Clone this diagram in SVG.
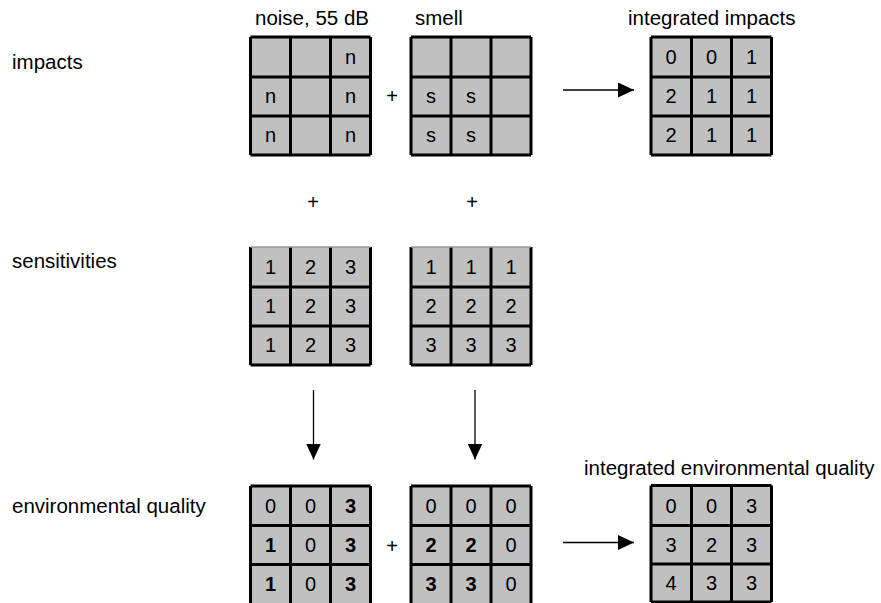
<svg xmlns="http://www.w3.org/2000/svg" width="881" height="603" viewBox="0 0 881 603">
  <style>
    text { font-family: "Liberation Sans", Arial, sans-serif; font-size: 20.5px; fill: #000; }
    .cell { text-anchor: middle; font-size: 20px; }
    .b { font-weight: bold; }
    .bg { fill: #c0c0c0; }
    .grid { fill: none; stroke: #000; stroke-width: 3; }
    .conn { stroke: #000; stroke-width: 1.3; fill: none; }
  </style>
  <defs>
    <marker id="head" viewBox="0 0 16 15" refX="16" refY="7.5" markerWidth="16" markerHeight="15" markerUnits="userSpaceOnUse" orient="auto">
      <path d="M0,0 L16,7.5 L0,15 Z" fill="#000"/>
    </marker>
  </defs>

  <!-- row labels -->
  <g id="row-labels">
    <text x="12" y="69">impacts</text>
    <text x="12" y="268">sensitivities</text>
    <text x="12" y="513">environmental quality</text>
  </g>

  <!-- impacts: noise -->
  <g id="noise">
    <text x="255" y="25">noise, 55 dB</text>
    <rect class="bg" x="250.5" y="37" width="120" height="118"/>
    <path class="grid" d="M250.5,37H370.5M250.5,77H370.5M250.5,116H370.5M250.5,155H370.5M250.5,37V155M290.5,37V155M330.5,37V155M370.5,37V155"/>
    <text class="cell" x="350.5" y="64">n</text>
    <text class="cell" x="270.5" y="103">n</text>
    <text class="cell" x="350.5" y="103">n</text>
    <text class="cell" x="270.5" y="142">n</text>
    <text class="cell" x="350.5" y="142">n</text>
  </g>

  <!-- impacts: smell -->
  <g id="smell">
    <text x="415" y="25">smell</text>
    <rect class="bg" x="411" y="37" width="120" height="118"/>
    <path class="grid" d="M411,37H531M411,77H531M411,116H531M411,155H531M411,37V155M451,37V155M491,37V155M531,37V155"/>
    <text class="cell" x="431" y="103">s</text>
    <text class="cell" x="471" y="103">s</text>
    <text class="cell" x="431" y="142">s</text>
    <text class="cell" x="471" y="142">s</text>
  </g>

  <!-- integrated impacts -->
  <g id="integrated-impacts">
    <text x="628" y="25">integrated impacts</text>
    <rect class="bg" x="651" y="37" width="120.5" height="118"/>
    <path class="grid" d="M651,37H771.5M651,77H771.5M651,116H771.5M651,155H771.5M651,37V155M691.5,37V155M731.5,37V155M771.5,37V155"/>
    <text class="cell" x="671" y="64">0</text>
    <text class="cell" x="711.5" y="64">0</text>
    <text class="cell" x="751.5" y="64">1</text>
    <text class="cell" x="671" y="103">2</text>
    <text class="cell" x="711.5" y="103">1</text>
    <text class="cell" x="751.5" y="103">1</text>
    <text class="cell" x="671" y="142">2</text>
    <text class="cell" x="711.5" y="142">1</text>
    <text class="cell" x="751.5" y="142">1</text>
  </g>

  <!-- sensitivities: noise -->
  <g id="sens-noise">
    <rect class="bg" x="250.5" y="247" width="120" height="118"/>
    <path class="grid" d="M250.5,287H370.5M250.5,326H370.5M250.5,365H370.5M250.5,247V365M290.5,247V365M330.5,247V365M370.5,247V365"/>
    <path d="M250.5,247H370.5" stroke="#999" stroke-width="1.5" fill="none"/>
    <text class="cell" x="270.5" y="274">1</text>
    <text class="cell" x="310.5" y="274">2</text>
    <text class="cell" x="350.5" y="274">3</text>
    <text class="cell" x="270.5" y="313">1</text>
    <text class="cell" x="310.5" y="313">2</text>
    <text class="cell" x="350.5" y="313">3</text>
    <text class="cell" x="270.5" y="352">1</text>
    <text class="cell" x="310.5" y="352">2</text>
    <text class="cell" x="350.5" y="352">3</text>
  </g>

  <!-- sensitivities: smell -->
  <g id="sens-smell">
    <rect class="bg" x="411" y="247" width="120" height="118"/>
    <path class="grid" d="M411,287H531M411,326H531M411,365H531M411,247V365M451,247V365M491,247V365M531,247V365"/>
    <path d="M411,247H531" stroke="#999" stroke-width="1.5" fill="none"/>
    <text class="cell" x="431" y="274">1</text>
    <text class="cell" x="471" y="274">1</text>
    <text class="cell" x="511" y="274">1</text>
    <text class="cell" x="431" y="313">2</text>
    <text class="cell" x="471" y="313">2</text>
    <text class="cell" x="511" y="313">2</text>
    <text class="cell" x="431" y="352">3</text>
    <text class="cell" x="471" y="352">3</text>
    <text class="cell" x="511" y="352">3</text>
  </g>

  <!-- environmental quality: noise -->
  <g id="env-noise">
    <rect class="bg" x="250.5" y="486" width="120" height="118"/>
    <path class="grid" d="M250.5,486H370.5M250.5,525.5H370.5M250.5,564.5H370.5M250.5,486V603M290.5,486V603M330.5,486V603M370.5,486V603"/>
    <text class="cell" x="270.5" y="513">0</text>
    <text class="cell" x="310.5" y="513">0</text>
    <text class="cell b" x="350.5" y="513">3</text>
    <text class="cell b" x="270.5" y="552">1</text>
    <text class="cell" x="310.5" y="552">0</text>
    <text class="cell b" x="350.5" y="552">3</text>
    <text class="cell b" x="270.5" y="591">1</text>
    <text class="cell" x="310.5" y="591">0</text>
    <text class="cell b" x="350.5" y="591">3</text>
  </g>

  <!-- environmental quality: smell -->
  <g id="env-smell">
    <rect class="bg" x="411" y="486" width="120" height="118"/>
    <path class="grid" d="M411,486H531M411,525.5H531M411,564.5H531M411,486V603M451,486V603M491,486V603M531,486V603"/>
    <text class="cell" x="431" y="513">0</text>
    <text class="cell" x="471" y="513">0</text>
    <text class="cell" x="511" y="513">0</text>
    <text class="cell b" x="431" y="552">2</text>
    <text class="cell b" x="471" y="552">2</text>
    <text class="cell" x="511" y="552">0</text>
    <text class="cell b" x="431" y="591">3</text>
    <text class="cell b" x="471" y="591">3</text>
    <text class="cell" x="511" y="591">0</text>
  </g>

  <!-- integrated environmental quality -->
  <g id="integrated-env">
    <text x="584" y="475">integrated environmental quality</text>
    <rect class="bg" x="651" y="485.5" width="120.5" height="116.5"/>
    <path class="grid" d="M651,485.5H771.5M651,525.5H771.5M651,564H771.5M651,602H771.5M651,485.5V602M691.5,485.5V602M731.5,485.5V602M771.5,485.5V602"/>
    <text class="cell" x="671" y="513">0</text>
    <text class="cell" x="711.5" y="513">0</text>
    <text class="cell" x="751.5" y="513">3</text>
    <text class="cell" x="671" y="552">3</text>
    <text class="cell" x="711.5" y="552">2</text>
    <text class="cell" x="751.5" y="552">3</text>
    <text class="cell" x="671" y="590">4</text>
    <text class="cell" x="711.5" y="590">3</text>
    <text class="cell" x="751.5" y="590">3</text>
  </g>

  <!-- operators -->
  <g id="operators">
    <text class="cell" x="392" y="103">+</text>
    <text class="cell" x="313" y="209">+</text>
    <text class="cell" x="472" y="209">+</text>
    <text class="cell" x="392" y="553">+</text>
  </g>

  <!-- arrows -->
  <g id="connectors">
    <path class="conn" d="M563,90H634" marker-end="url(#head)"/>
    <path class="conn" d="M563,542.5H634" marker-end="url(#head)"/>
    <path class="conn" d="M313.5,390V459.5" marker-end="url(#head)"/>
    <path class="conn" d="M475,390V459.5" marker-end="url(#head)"/>
  </g>
</svg>
